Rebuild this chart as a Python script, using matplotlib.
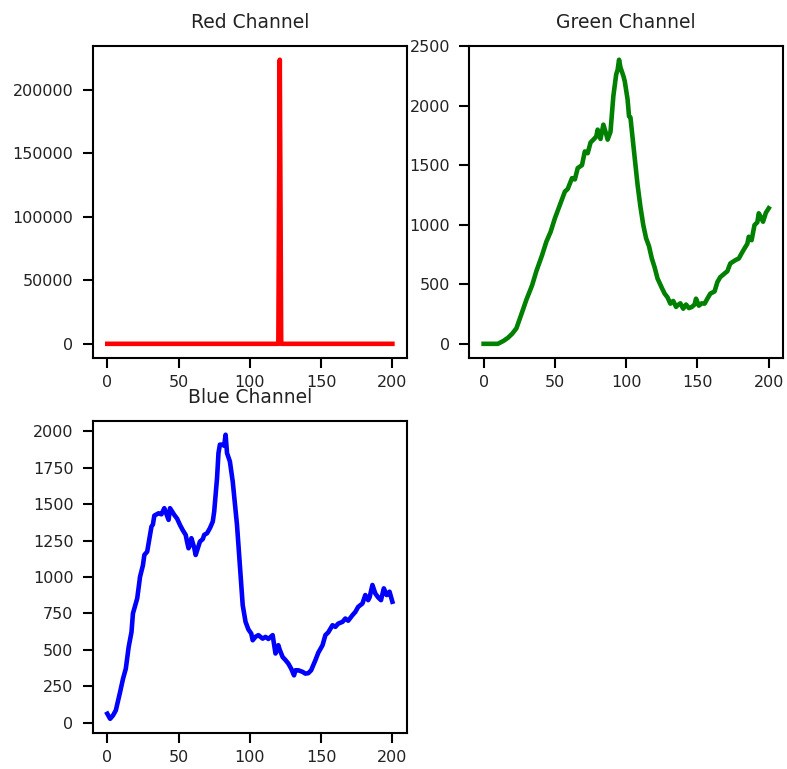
import matplotlib
matplotlib.use("Agg")
import matplotlib.pyplot as plt

# ---- data ----
red_x = [0, 120, 121, 122, 200]
red_counts = [0, 0, 223500, 0, 0]

green_x = [0, 5, 10, 14, 17, 20, 23, 27, 30, 34,
           37, 41, 44, 47, 50, 53, 57, 59, 62, 64,
           66, 69, 71, 73, 75, 77, 79, 80, 82, 84,
           86, 87, 89, 91, 93, 94, 95, 96, 98, 99,
           101, 102, 103, 105, 108, 110, 112, 114, 116, 118,
           120, 122, 125, 127, 129, 131, 133, 135, 136, 138,
           140, 142, 144, 146, 148, 149, 151, 153, 155, 157,
           159, 162, 164, 166, 169, 171, 173, 175, 177, 179,
           181, 183, 185, 186, 188, 190, 192, 193, 195, 196,
           198, 200]
green_counts = [0, 0, 0, 25, 50, 84, 130, 266, 370, 491,
                610, 744, 857, 940, 1054, 1150, 1278, 1300, 1391, 1380,
                1475, 1500, 1615, 1600, 1690, 1714, 1740, 1798, 1720, 1840,
                1760, 1714, 1780, 2079, 2262, 2300, 2385, 2320, 2250, 2205,
                2050, 1910, 1900, 1672, 1334, 1150, 997, 885, 820, 716,
                640, 548, 470, 421, 390, 337, 360, 310, 323, 340,
                295, 330, 300, 309, 330, 379, 320, 340, 337, 380,
                421, 440, 519, 560, 590, 610, 674, 690, 705, 716,
                760, 801, 840, 899, 870, 997, 1020, 1096, 1050, 1025,
                1100, 1138]

blue_x = [0, 2, 4, 6, 9, 11, 13, 15, 17, 18,
          21, 23, 25, 26, 28, 30, 31, 32, 33, 36,
          38, 40, 43, 44, 47, 49, 51, 53, 55, 56,
          57, 58, 59, 61, 62, 65, 67, 68, 70, 72,
          74, 75, 77, 78, 79, 81, 82, 83, 84, 86,
          88, 91, 93, 95, 97, 99, 101, 102, 104, 106,
          109, 111, 113, 116, 118, 120, 121, 123, 125, 127,
          129, 131, 132, 134, 137, 139, 141, 143, 146, 148,
          151, 153, 155, 158, 160, 162, 165, 167, 169, 172,
          174, 176, 179, 181, 183, 184, 186, 188, 190, 192,
          194, 196, 198, 200]
blue_counts = [62, 27, 50, 85, 211, 300, 371, 520, 623, 750,
               853, 1002, 1080, 1151, 1174, 1289, 1346, 1360, 1421, 1437,
               1430, 1472, 1392, 1472, 1426, 1400, 1357, 1320, 1289, 1240,
               1197, 1220, 1266, 1200, 1151, 1243, 1260, 1289, 1300, 1335,
               1380, 1449, 1679, 1850, 1908, 1908, 1900, 1976, 1850, 1793,
               1655, 1357, 1082, 807, 692, 640, 612, 566, 590, 601,
               577, 589, 575, 601, 475, 532, 500, 451, 430, 406,
               371, 325, 360, 360, 349, 337, 340, 360, 429, 480,
               532, 601, 620, 669, 658, 680, 692, 715, 700, 738,
               760, 795, 818, 876, 841, 860, 945, 887, 860, 841,
               922, 876, 899, 830]

titles = ["Red Channel", "Green Channel", "Blue Channel"]
colors = ["red", "green", "blue"]
xticks = [0, 50, 100, 150, 200]

plt.rcParams.update({
    "font.family": "DejaVu Sans",
    "axes.linewidth": 1.5,
    "xtick.major.width": 1.5,
    "ytick.major.width": 1.5,
    "xtick.major.size": 7.5,
    "ytick.major.size": 7.5,
    "xtick.labelsize": 11.5,
    "ytick.labelsize": 11.5,
    "xtick.major.pad": 4.5,
    "ytick.major.pad": 6.5,
    "xtick.color": "black",
    "ytick.color": "black",
    "text.color": "#222222",
})

fig, axes = plt.subplots(2, 2, figsize=(7.87, 7.69), dpi=100)
fig.subplots_adjust(left=0.1182, right=0.9949, top=0.9408, bottom=0.0468,
                    wspace=0.2, hspace=0.2)

series = [(red_x, red_counts), (green_x, green_counts), (blue_x, blue_counts)]
for ax, (xs, ys), title, color in zip(axes.flat, series, titles, colors):
    ax.plot(xs, ys, color=color, linewidth=3.3)
    ax.set_title(title, fontsize=13.5, pad=12.5, color="#222222")
    ax.set_xticks(xticks)
    for lab in ax.get_xticklabels() + ax.get_yticklabels():
        lab.set_color("#222222")

axes[1, 1].axis("off")

fig.savefig("out.png", dpi=100)
